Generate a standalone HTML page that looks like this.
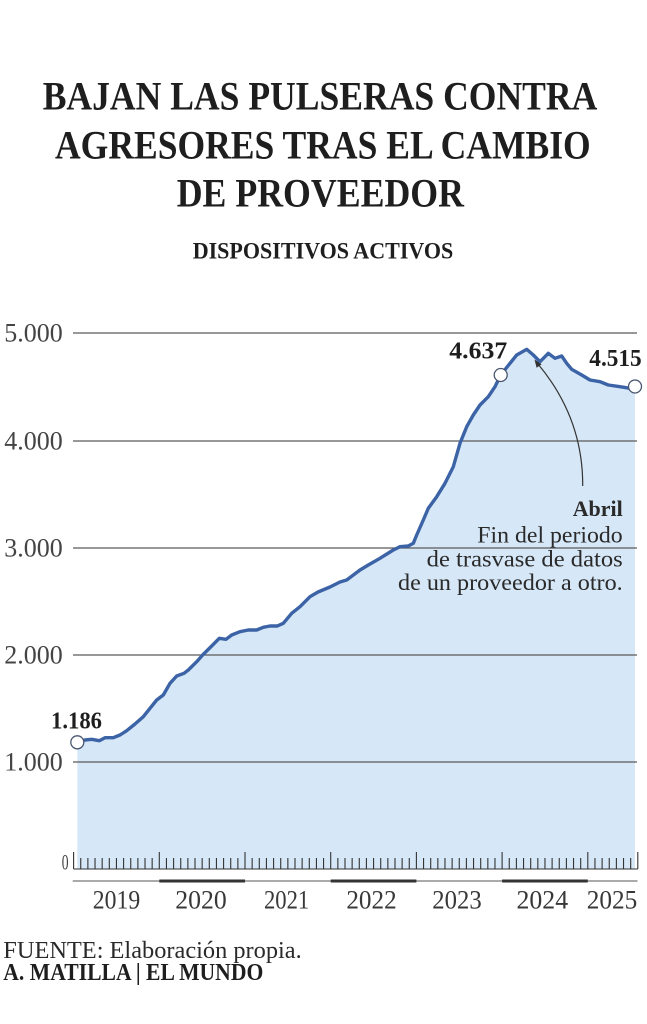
<!DOCTYPE html>
<html>
<head>
<meta charset="utf-8">
<style>
html,body{margin:0;padding:0;background:#fff;}
svg{display:block;}
text{font-family:"Liberation Serif",serif;}
</style>
</head>
<body>
<svg width="647" height="1024" viewBox="0 0 647 1024" xmlns="http://www.w3.org/2000/svg">
<rect width="647" height="1024" fill="#fff"/>

<!-- Title -->
<g fill="#1e1e1e" font-weight="bold" font-size="40">
<text x="42.7" y="109.3" textLength="554.6" lengthAdjust="spacingAndGlyphs">BAJAN LAS PULSERAS CONTRA</text>
<text x="55" y="158.3" textLength="535.7" lengthAdjust="spacingAndGlyphs">AGRESORES TRAS EL CAMBIO</text>
<text x="176.7" y="206.7" textLength="287.3" lengthAdjust="spacingAndGlyphs">DE PROVEEDOR</text>
</g>
<text x="192.7" y="258.3" font-size="23.5" font-weight="bold" fill="#1e1e1e" textLength="260.6" lengthAdjust="spacingAndGlyphs">DISPOSITIVOS ACTIVOS</text>

<!-- Area -->
<path fill="#d6e7f7" d="M77.3,742.3 L85,740 L91.7,739.3 L99.3,740.7 L105,737.7 L113.3,737.7 L120,735 L126.7,730.7 L135,724 L143.3,716.7 L150,708.3 L156.7,700 L163.3,695 L170,683.3 L176.7,676 L184,673.3 L188.3,670 L196.7,661.7 L203.3,654.3 L211.7,646 L219.3,638.3 L226,639.3 L231.7,635 L240,631.7 L248.3,630 L256.7,630 L263.3,627.3 L270,626 L277.3,626 L283.3,623.3 L291.7,613.3 L300,606.7 L310,596.7 L318,592 L330,587 L340,582 L346.7,580 L360,570 L368.3,565 L380,558.3 L393.3,550 L400,546.7 L408.3,546 L413.3,543.3 L416.7,535 L423.3,520 L428.3,508.3 L436.7,496.7 L445,483.3 L453.3,466.7 L460,443.3 L466.7,426.7 L473.3,415 L480,405 L488.3,396.7 L495,386.7 L500.7,375 L510,363.3 L516.7,355 L526.7,349.3 L533.3,355 L540,361.7 L548.3,353.3 L555,358.3 L561.7,356 L566.7,363.3 L571.7,369.3 L581.7,375 L590,380 L600,381.7 L608.3,385 L620,386.7 L630,388.3 L635,386.5 L635,869 L77.3,869 Z"/>

<!-- Gridlines -->
<g stroke="#5a5a5a" stroke-width="1.2">
<line x1="73" y1="333" x2="637" y2="333"/>
<line x1="73" y1="441" x2="637" y2="441"/>
<line x1="73" y1="548" x2="637" y2="548"/>
<line x1="73" y1="655" x2="637" y2="655"/>
<line x1="73" y1="762" x2="637" y2="762"/>
</g>

<!-- Y labels -->
<g fill="#444" font-size="26" text-anchor="end">
<text x="62.7" y="341.7">5.000</text>
<text x="62.7" y="449.5">4.000</text>
<text x="62.7" y="556.5">3.000</text>
<text x="62.7" y="663.5">2.000</text>
<text x="62.7" y="770.5">1.000</text>
</g>
<text x="61.7" y="869.5" font-size="22" fill="#444" textLength="6.8" lengthAdjust="spacingAndGlyphs">0</text>

<!-- Series line -->
<path fill="none" stroke="#3b63a6" stroke-width="3.4" stroke-linejoin="round" stroke-linecap="round" d="M77.3,742.3 L85,740 L91.7,739.3 L99.3,740.7 L105,737.7 L113.3,737.7 L120,735 L126.7,730.7 L135,724 L143.3,716.7 L150,708.3 L156.7,700 L163.3,695 L170,683.3 L176.7,676 L184,673.3 L188.3,670 L196.7,661.7 L203.3,654.3 L211.7,646 L219.3,638.3 L226,639.3 L231.7,635 L240,631.7 L248.3,630 L256.7,630 L263.3,627.3 L270,626 L277.3,626 L283.3,623.3 L291.7,613.3 L300,606.7 L310,596.7 L318,592 L330,587 L340,582 L346.7,580 L360,570 L368.3,565 L380,558.3 L393.3,550 L400,546.7 L408.3,546 L413.3,543.3 L416.7,535 L423.3,520 L428.3,508.3 L436.7,496.7 L445,483.3 L453.3,466.7 L460,443.3 L466.7,426.7 L473.3,415 L480,405 L488.3,396.7 L495,386.7 L500.7,375 L510,363.3 L516.7,355 L526.7,349.3 L533.3,355 L540,361.7 L548.3,353.3 L555,358.3 L561.7,356 L566.7,363.3 L571.7,369.3 L581.7,375 L590,380 L600,381.7 L608.3,385 L620,386.7 L630,388.3 L635,386.5"/>

<!-- Circles -->
<g fill="#fff" stroke="#4a5670" stroke-width="1.3">
<circle cx="77.3" cy="742.3" r="6.5"/>
<circle cx="500.7" cy="375" r="6.5"/>
<circle cx="635" cy="386.5" r="6.5"/>
</g>

<!-- Value labels -->
<g fill="#1e1e1e" font-weight="bold" font-size="24.5">
<text x="51" y="728.3" textLength="51" lengthAdjust="spacingAndGlyphs">1.186</text>
<text x="449.3" y="358.3" textLength="58" lengthAdjust="spacingAndGlyphs">4.637</text>
<text x="589.3" y="366" textLength="52.4" lengthAdjust="spacingAndGlyphs">4.515</text>
</g>

<!-- Annotation arrow -->
<path d="M582.7,486 C583,440 568,400 538,364" fill="none" stroke="#333" stroke-width="1.2"/>
<polygon points="534.5,359.5 541.6,364.4 536.6,367.8" fill="#333"/>

<!-- Annotation text -->
<g fill="#2a2a2a" text-anchor="end">
<text x="622.7" y="516" font-size="22" font-weight="bold" textLength="50" lengthAdjust="spacingAndGlyphs">Abril</text>
<text x="622.7" y="542.7" font-size="23.5" textLength="145.4" lengthAdjust="spacingAndGlyphs">Fin del periodo</text>
<text x="622.7" y="566.5" font-size="23.5" textLength="196" lengthAdjust="spacingAndGlyphs">de trasvase de datos</text>
<text x="622.7" y="590" font-size="23.5" textLength="224.7" lengthAdjust="spacingAndGlyphs">de un proveedor a otro.</text>
</g>

<!-- X axis baseline and ticks -->
<g stroke="#333" stroke-width="1.1" fill="none">
<line x1="73.6" y1="869" x2="637.8" y2="869"/>
<path d="M73.6 852V869M159.3 852V869M245 852V869M330.7 852V869M416.4 852V869M502.1 852V869M587.8 852V869M637.8 852V869"/>
<path d="M80.74 858V869M87.88 858V869M95.03 858V869M102.17 858V869M109.31 858V869M116.45 858V869M123.59 858V869M130.74 858V869M137.88 858V869M145.02 858V869M152.16 858V869
M166.45 858V869M173.59 858V869M180.73 858V869M187.87 858V869M195.01 858V869M202.16 858V869M209.3 858V869M216.44 858V869M223.58 858V869M230.72 858V869M237.87 858V869
M252.15 858V869M259.29 858V869M266.43 858V869M273.58 858V869M280.72 858V869M287.86 858V869M295 858V869M302.14 858V869M309.29 858V869M316.43 858V869M323.57 858V869
M337.85 858V869M345 858V869M352.14 858V869M359.28 858V869M366.42 858V869M373.56 858V869M380.71 858V869M387.85 858V869M394.99 858V869M402.13 858V869M409.27 858V869
M423.56 858V869M430.7 858V869M437.84 858V869M444.98 858V869M452.13 858V869M459.27 858V869M466.41 858V869M473.55 858V869M480.69 858V869M487.84 858V869M494.98 858V869
M509.26 858V869M516.4 858V869M523.55 858V869M530.69 858V869M537.83 858V869M544.97 858V869M552.11 858V869M559.26 858V869M566.4 858V869M573.54 858V869M580.68 858V869
M594.97 858V869M602.11 858V869M609.25 858V869M616.39 858V869M623.53 858V869M630.68 858V869"/>
</g>

<!-- Year bands -->
<line x1="72.7" y1="881" x2="637.5" y2="881" stroke="#555" stroke-width="1"/>
<g stroke="#333" stroke-width="3">
<line x1="159.3" y1="881" x2="245" y2="881"/>
<line x1="330.7" y1="881" x2="416.4" y2="881"/>
<line x1="502.1" y1="881" x2="587.8" y2="881"/>
</g>

<!-- Year labels -->
<g fill="#383838" font-size="26" text-anchor="middle">
<text x="116.5" y="908.3" textLength="47.4" lengthAdjust="spacingAndGlyphs">2019</text>
<text x="201" y="908.3" textLength="51.5" lengthAdjust="spacingAndGlyphs">2020</text>
<text x="286.6" y="908.3" textLength="45.3" lengthAdjust="spacingAndGlyphs">2021</text>
<text x="371.5" y="908.3" textLength="50.3" lengthAdjust="spacingAndGlyphs">2022</text>
<text x="457" y="908.3" textLength="49.4" lengthAdjust="spacingAndGlyphs">2023</text>
<text x="542.3" y="908.3" textLength="51.6" lengthAdjust="spacingAndGlyphs">2024</text>
<text x="612" y="908.3" textLength="50.5" lengthAdjust="spacingAndGlyphs">2025</text>
</g>

<!-- Footer -->
<text x="3.3" y="958" font-size="24" fill="#2a2a2a" textLength="298.4" lengthAdjust="spacingAndGlyphs">FUENTE: Elaboración propia.</text>
<text x="3.3" y="980" font-size="24" font-weight="bold" fill="#1e1e1e" textLength="260" lengthAdjust="spacingAndGlyphs">A. MATILLA | EL MUNDO</text>
</svg>
</body>
</html>
